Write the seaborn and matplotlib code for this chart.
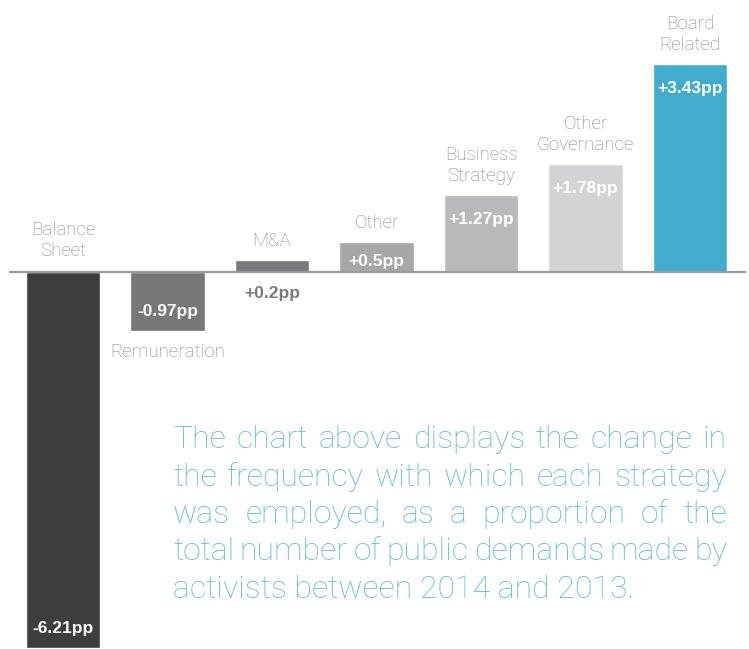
import matplotlib
matplotlib.use("Agg")
import matplotlib.pyplot as plt
import seaborn as sns

# =====================================================================
# 1. DATOS
# =====================================================================
categories = ['Balance Sheet', 'Remuneration', 'M&A', 'Other',
              'Business Strategy', 'Other Governance', 'Board Related']
label_text = ['Balance\nSheet', 'Remuneration', 'M&A', 'Other',
              'Business\nStrategy', 'Other\nGovernance', 'Board\nRelated']
values = [-6.21, -0.97, 0.2, 0.5, 1.27, 1.78, 3.43]
value_labels = ['-6.21pp', '-0.97pp', '+0.2pp', '+0.5pp', '+1.27pp', '+1.78pp', '+3.43pp']
colors = ['#3d3d3f', '#77777a', '#7a7a7c', '#a7a7a9', '#b9b9bb', '#d3d3d5', '#41acce']

paragraph = [
    'The chart above displays the change in',
    'the frequency with which each strategy',
    'was employed, as a proportion of the',
    'total number of public demands made by',
    'activists between 2014 and 2013.',
]

# =====================================================================
# 2. FIGURA
# =====================================================================
sns.set_style('white')
plt.rcParams['font.family'] = ['Roboto', 'DejaVu Sans']

fig = plt.figure(figsize=(7.49, 6.49), dpi=100)
ax = fig.add_axes([0, 0, 1, 1])

sns.barplot(x=categories, y=values, hue=categories, palette=colors,
            width=0.71, saturation=1, legend=False, ax=ax)

ax.set_xlim(-0.603, 6.565)
ax.set_ylim(-6.231, 4.496)
ax.axis('off')

# linea base
ax.plot([-0.51, 6.53], [0, 0], color='#9a9a9c', lw=1.6, zorder=3)

# =====================================================================
# 3. ETIQUETAS
# =====================================================================
light = dict(family=['Roboto', 'DejaVu Sans'], fontweight='light')
bold = dict(family=['Liberation Sans', 'DejaVu Sans'], fontweight='bold')
name_kw = dict(ha='center', fontsize=13.5, color='#858587', linespacing=1.25,
               textcoords='offset pixels', **light)

for i, (v, name, lab) in enumerate(zip(values, label_text, value_labels)):
    # nombre de la categoria
    if v > 0:
        ax.annotate(name, (i, v), xytext=(0, 10), va='bottom', **name_kw)
    elif v < -3:
        ax.annotate(name, (i, 0), xytext=(0, 12), va='bottom', **name_kw)
    else:
        ax.annotate(name, (i, v), xytext=(0, -12), va='top', **name_kw)

    # valor
    if 0 < v < 0.3:
        ax.text(i, -0.36, lab, ha='center', va='center', fontsize=12.5,
                color=colors[i], **bold)
    elif v > 0:
        ax.text(i, max(v - 0.4, 0.18), lab, ha='center', va='center',
                fontsize=12.5, color='white', **bold)
    else:
        ax.text(i, v + 0.32, lab, ha='center', va='center', fontsize=12.5,
                color='white', **bold)

# =====================================================================
# 4. PARRAFO JUSTIFICADO
# =====================================================================
fig.canvas.draw()
renderer = fig.canvas.get_renderer()
W, H = fig.bbox.width, fig.bbox.height
x0, x1 = 173, 727
para_kw = dict(fontsize=23, color='#5db8de', va='baseline', ha='left', **light)

for k, line in enumerate(paragraph):
    y = 1 - (448 + k * 37.5) / H
    words = line.split()
    if k == len(paragraph) - 1:
        fig.text(x0 / W, y, line, **para_kw)
        continue
    widths = []
    for w in words:
        t = fig.text(0, 0, w, **para_kw)
        widths.append(t.get_window_extent(renderer).width)
        t.remove()
    gap = (x1 - x0 - sum(widths)) / (len(words) - 1)
    x = x0
    for w, wd in zip(words, widths):
        fig.text(x / W, y, w, **para_kw)
        x += wd + gap

fig.savefig('out.png', dpi=100, facecolor='white')
